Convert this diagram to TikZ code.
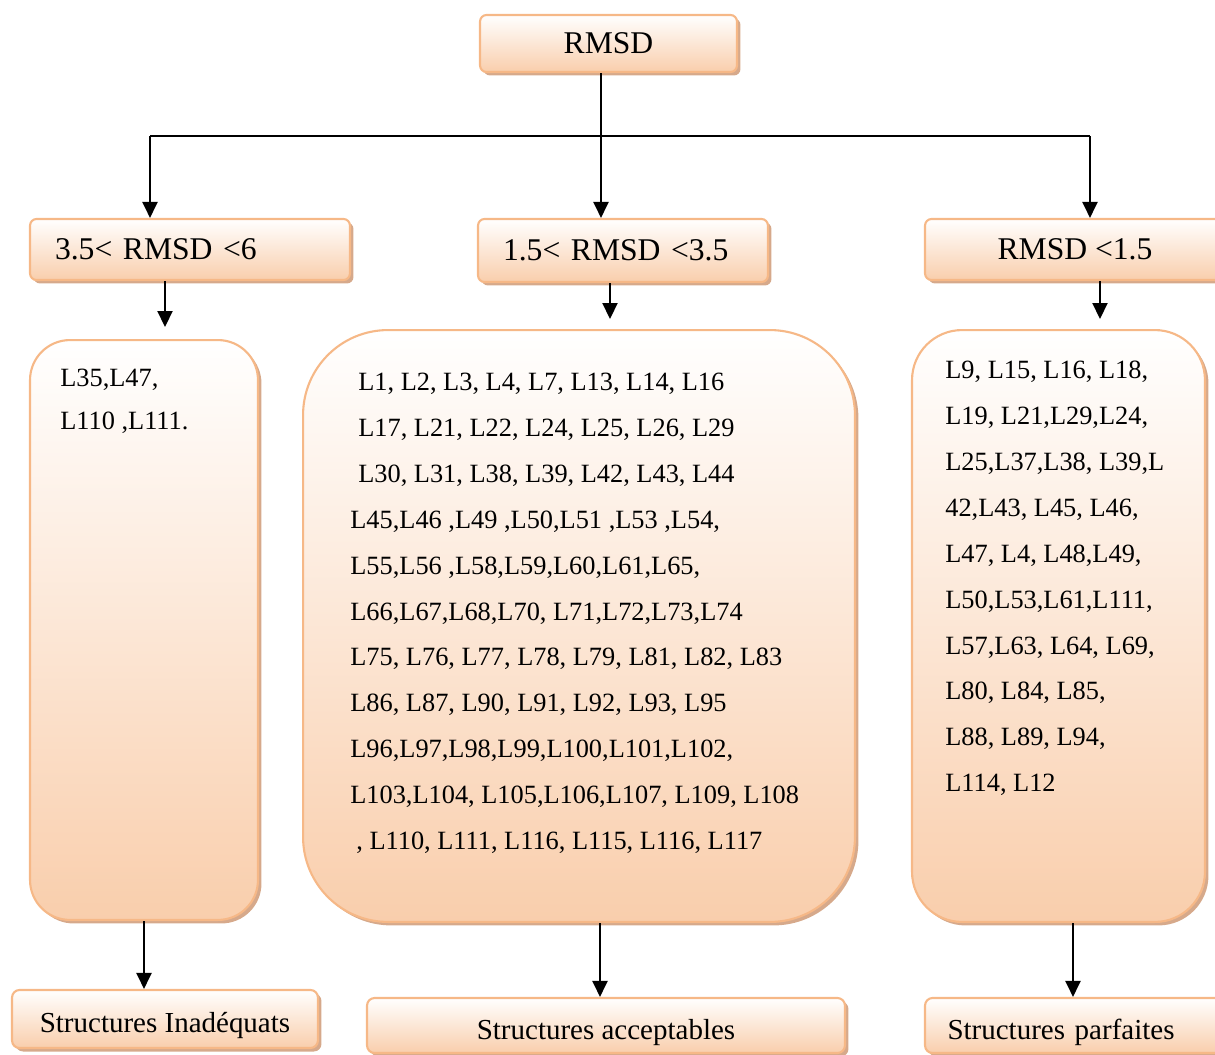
\documentclass[tikz,border=0pt]{standalone}
\usepackage{fontspec}
\setmainfont{Liberation Serif}
\usetikzlibrary{arrows.meta,calc,positioning,shadows}
\definecolor{rsink}{HTML}{000000}
\definecolor{rsedge}{HTML}{F6B887}
\definecolor{rspeach}{HTML}{F9CEAC}
\definecolor{rsshadow}{HTML}{D2A07E}
\tikzset{
  rs box/.style={draw=rsedge, line width=1.2pt, top color=white, bottom color=rspeach,
    drop shadow={shadow xshift=0.07cm, shadow yshift=-0.07cm, fill=rsshadow, opacity=0.9},
    inner sep=0pt},
  rs head/.style={rs box, rounded corners=0.13cm, font=\fontsize{18}{20}\selectfont},
  rs foot/.style={rs box, rounded corners=0.15cm, font=\fontsize{16.5}{18}\selectfont,
    text height=0.64cm, text depth=0.1cm},
  rs list/.style={font=\fontsize{15}{26.1}\selectfont, align=left, inner sep=0pt, anchor=north west},
  rs arrow/.style={-{Triangle[length=0.32cm,width=0.3cm]}, line width=1.2pt, draw=rsink},
  rs line/.style={line width=1.2pt, draw=rsink}
}

\begin{document}
\begin{tikzpicture}[x=0.02cm, y=-0.02cm]
  \useasboundingbox (0,0) rectangle (1215,1055);
  % top
  \node[rs head, minimum width=5.14cm, minimum height=1.14cm] (rmsd) at (608.5,43.5) {RMSD};
  % ranges
  \node[rs head, minimum width=6.4cm, minimum height=1.22cm, text width=5.4cm,
    inner xsep=0.5cm, align=left] (hleft) at (190,249.5) {3.5< RMSD <6};
  \node[rs head, minimum width=5.8cm, minimum height=1.26cm, text width=4.8cm,
    inner xsep=0.5cm, align=left] (hmid) at (623,250.5) {1.5< RMSD <3.5};
  \node[rs head, minimum width=6.0cm, minimum height=1.22cm] (hright) at (1075,249.5) {RMSD <1.5};
  % lists
  \node[rs box, rounded corners=0.8cm, minimum width=4.56cm, minimum height=11.6cm] (cleft) at (144,630) {};
  \node[rs box, rounded corners=1.7cm, minimum width=11.04cm, minimum height=11.84cm] (cmid) at (579,626) {};
  \node[rs box, rounded corners=1.0cm, minimum width=5.86cm, minimum height=11.84cm] (cright) at (1058.5,626) {};
  \node[rs list, font=\fontsize{15}{24.4}\selectfont] (tleft) at (60,369) {L35,L47,\\ L110 ,L111.};
  \node[rs list] (tmid) at (350,373) {%
    \hspace{0.16cm}L1, L2, L3, L4, L7, L13, L14, L16\\
    \hspace{0.16cm}L17, L21, L22, L24, L25, L26, L29\\
    \hspace{0.16cm}L30, L31, L38, L39, L42, L43, L44\\
    L45,L46 ,L49 ,L50,L51 ,L53 ,L54,\\
    L55,L56 ,L58,L59,L60,L61,L65,\\
    L66,L67,L68,L70, L71,L72,L73,L74\\
    L75, L76, L77, L78, L79, L81, L82, L83\\
    L86, L87, L90, L91, L92, L93, L95\\
    L96,L97,L98,L99,L100,L101,L102,\\
    L103,L104, L105,L106,L107, L109, L108\\
    \hspace{0.12cm}, L110, L111, L116, L115, L116, L117};
  \node[rs list] (tright) at (945,361) {%
    L9, L15, L16, L18,\\
    L19, L21,L29,L24,\\
    L25,L37,L38, L39,L\\
    42,L43, L45, L46,\\
    L47, L4, L48,L49,\\
    L50,L53,L61,L111,\\
    L57,L63, L64, L69,\\
    L80, L84, L85,\\
    L88, L89, L94,\\
    L114, L12};
  % results
  \node[rs foot, minimum width=6.12cm, minimum height=1.16cm] (bleft) at (165,1019) {Structures Inadéquats};
  \node[rs foot, minimum width=9.56cm, minimum height=1.1cm] (bmid) at (606,1025.5) {Structures acceptables};
  \node[rs foot, minimum width=6.0cm, minimum height=1.1cm, text width=5.1cm,
    inner xsep=0.45cm, align=left] (bright) at (1075,1025.5) {Structures parfaites};
  % connectors
  \coordinate (bus) at (601,136);
  \draw[rs line] ([xshift=-0.8cm]hleft.north |- bus) -- ([xshift=0.3cm]hright.north |- bus);
  \draw[rs arrow] ([xshift=-0.15cm]rmsd.south) -- ([xshift=-0.15cm]rmsd.south |- hmid.north);
  \draw[rs arrow] ([xshift=-0.8cm]hleft.north |- bus) -- ([xshift=-0.8cm]hleft.north);
  \draw[rs arrow] ([xshift=0.3cm]hright.north |- bus) -- ([xshift=0.3cm]hright.north);
  \draw[rs arrow, shorten >=0.24cm] ([xshift=-0.5cm]hleft.south) -- ([xshift=-0.5cm]hleft.south |- cleft.north);
  \draw[rs arrow, shorten >=0.2cm] ([xshift=-0.26cm]hmid.south) -- ([xshift=-0.26cm]hmid.south |- cmid.north);
  \draw[rs arrow, shorten >=0.2cm] ([xshift=0.5cm]hright.south) -- ([xshift=0.5cm]hright.south |- cright.north);
  \draw[rs arrow] (cleft.south) -- (cleft.south |- bleft.north);
  \draw[rs arrow] ([xshift=0.42cm]cmid.south) -- ([xshift=0.42cm]cmid.south |- bmid.north);
  \draw[rs arrow] ([xshift=0.29cm]cright.south) -- ([xshift=0.29cm]cright.south |- bright.north);
\end{tikzpicture}
\end{document}
